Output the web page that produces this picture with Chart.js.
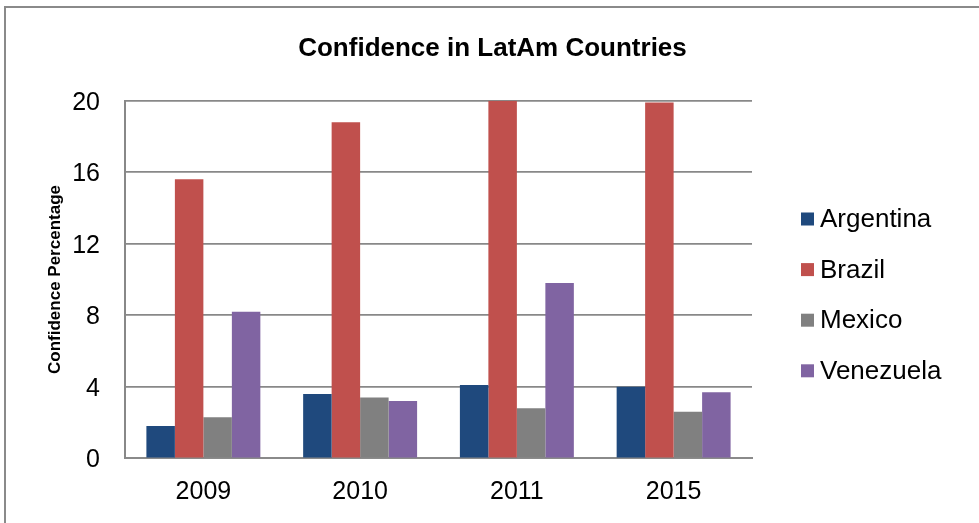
<!DOCTYPE html>
<html>
<head>
<meta charset="utf-8">
<script src="https://cdn.jsdelivr.net/npm/chart.js@4"></script>
<style>
  html, body { margin: 0; padding: 0; background: #ffffff; }
  #wrap { position: relative; width: 979px; height: 523px; overflow: hidden; }
  #frame { position: absolute; left: 4px; top: 6px; width: 1000px; height: 600px;
           border-left: 2px solid #8a8a8a; border-top: 2px solid #8a8a8a; }
  #c { position: absolute; left: 0; top: 0; }
</style>
</head>
<body>
<div id="wrap">
  <div id="frame"></div>
  <canvas id="c" width="979" height="523"></canvas>
</div>
<script>
// Survey years on the x axis
const years = ['2009', '2010', '2011', '2015'];

// Confidence percentage per country
const argentina = [1.8, 3.6, 4.1, 4.0];
const brazil    = [15.6, 18.8, 20.0, 19.9];
const mexico    = [2.3, 3.4, 2.8, 2.6];
const venezuela = [8.2, 3.2, 9.8, 3.7];

// Y axis range and step
const yMin = 0;
const yMax = 20;
const yStep = 4;

const FONT = '"Liberation Sans", Arial, sans-serif';

// Legend drawn to the right of the plot, one row per dataset
const sideLegend = {
  id: 'sideLegend',
  afterDraw(chart) {
    const ctx = chart.ctx;
    ctx.save();
    ctx.font = '26px ' + FONT;
    ctx.textBaseline = 'middle';
    ctx.textAlign = 'left';
    chart.data.datasets.forEach((ds, i) => {
      const cy = 219 + i * 50.6;
      ctx.fillStyle = ds.backgroundColor;
      ctx.fillRect(801, cy - 6.5, 13, 13);
      ctx.fillStyle = '#000000';
      ctx.fillText(ds.label, 820, cy + 1);
    });
    ctx.restore();
  }
};

new Chart(document.getElementById('c'), {
  type: 'bar',
  data: {
    labels: years,
    datasets: [
      { label: 'Argentina', data: argentina, backgroundColor: '#1F497D' },
      { label: 'Brazil',    data: brazil,    backgroundColor: '#C0504D' },
      { label: 'Mexico',    data: mexico,    backgroundColor: '#808080' },
      { label: 'Venezuela', data: venezuela, backgroundColor: '#8064A2' }
    ]
  },
  options: {
    responsive: false,
    animation: false,
    events: [],
    layout: { padding: { left: 6, right: 0, top: 0, bottom: 0 } },
    datasets: {
      bar: { categoryPercentage: 0.727, barPercentage: 1.0, borderWidth: 0 }
    },
    plugins: {
      legend: { display: false },
      tooltip: { enabled: false },
      title: {
        display: true,
        text: 'Confidence in LatAm Countries',
        color: '#000000',
        font: { family: FONT, size: 26, weight: 'bold', lineHeight: 1.2 },
        padding: { top: 32.9, bottom: 36.6 }
      }
    },
    scales: {
      x: {
        position: 'bottom',
        grid: { display: false, drawTicks: false },
        border: { display: true, color: '#8a8a8a', width: 2 },
        ticks: { color: '#000000', font: { family: FONT, size: 25 }, padding: 19, maxRotation: 0 },
        afterFit(s) { s.height = 523 - 458.3; }
      },
      y: {
        position: 'left',
        min: yMin,
        max: yMax,
        grid: { color: '#888888', lineWidth: 1.8, drawTicks: false },
        border: { display: true, color: '#888888', width: 2 },
        ticks: { stepSize: yStep, color: '#000000', font: { family: FONT, size: 25 }, padding: 25, labelOffset: 2 },
        title: {
          display: true,
          text: 'Confidence Percentage',
          color: '#000000',
          font: { family: FONT, size: 17, weight: 'bold' },
          padding: { top: 38.8, bottom: 0 }
        },
        afterFit(s) { s.width = 125 - 6; }
      },
      spacer: {
        position: 'right',
        display: true,
        grid: { display: false, drawTicks: false },
        border: { display: false },
        ticks: { display: false },
        afterFit(s) { s.width = 979 - 752; }
      }
    }
  },
  plugins: [sideLegend]
});
</script>
</body>
</html>
